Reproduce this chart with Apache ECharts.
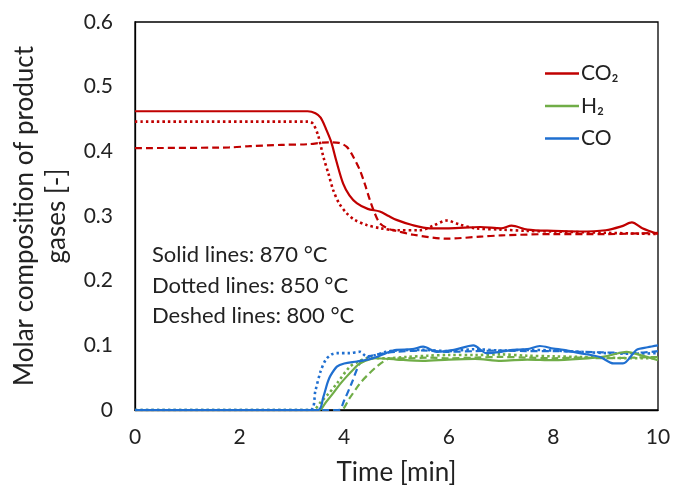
<!DOCTYPE html>
<html>
<head>
<meta charset="utf-8">
<script src="https://cdn.jsdelivr.net/npm/echarts@6/dist/echarts.min.js"></script>
<style>html,body{margin:0;padding:0;background:#fff;}#c{width:673px;height:488px;}</style>
</head>
<body>
<div id="c"></div>
<script>
// ---- data ----
const xTicks = [0, 2, 4, 6, 8, 10];
const yTicks = [0, 0.1, 0.2, 0.3, 0.4, 0.5, 0.6];
const legendNames = ['CO₂', 'H₂', 'CO'];
const notes = ['Solid lines: 870 °C', 'Dotted lines: 850 °C', 'Deshed lines: 800 °C'];

const co2_870 = [[0,0.462],[3.3,0.462],[3.45,0.459],[3.55,0.452],[3.65,0.435],[3.75,0.415],[3.85,0.385],[3.98,0.350],[4.1,0.332],[4.24,0.320],[4.45,0.311],[4.68,0.307],[4.85,0.300],[5.0,0.294],[5.3,0.286],[5.64,0.281],[6.0,0.281],[6.6,0.283],[7.0,0.281],[7.2,0.285],[7.5,0.279],[8.0,0.277],[8.5,0.276],[9.0,0.278],[9.3,0.284],[9.5,0.290],[9.7,0.281],[10,0.272]];
const co2_850 = [[0,0.446],[3.3,0.446],[3.4,0.443],[3.5,0.425],[3.6,0.392],[3.7,0.365],[3.79,0.340],[3.9,0.320],[4.05,0.304],[4.2,0.294],[4.43,0.286],[4.7,0.281],[5.0,0.278],[5.45,0.278],[5.7,0.285],[5.96,0.293],[6.2,0.287],[6.5,0.281],[7,0.279],[7.5,0.277],[8,0.276],[9,0.274],[10,0.272]];
const co2_800 = [[0,0.405],[1.8,0.406],[2.2,0.408],[2.8,0.410],[3.3,0.411],[3.7,0.414],[3.9,0.413],[4.05,0.407],[4.15,0.395],[4.3,0.371],[4.4,0.348],[4.49,0.325],[4.58,0.305],[4.68,0.289],[4.85,0.280],[5.0,0.277],[5.32,0.271],[5.96,0.265],[6.6,0.268],[7,0.270],[8,0.272],[9,0.272],[10,0.274]];
const h2_870 = [[0,0],[3.52,0],[3.65,0.012],[3.79,0.026],[3.92,0.040],[4.05,0.052],[4.18,0.063],[4.3,0.072],[4.62,0.080],[5.0,0.078],[5.5,0.076],[6,0.078],[6.5,0.079],[7,0.076],[7.5,0.078],[8,0.077],[8.5,0.079],[9,0.083],[9.4,0.090],[9.7,0.084],[10,0.077]];
const h2_850 = [[0,0],[3.4,0],[3.55,0.012],[3.7,0.025],[3.86,0.041],[4.11,0.067],[4.3,0.076],[4.43,0.080],[4.8,0.080],[5.2,0.082],[5.6,0.084],[6,0.085],[6.5,0.085],[7,0.086],[7.5,0.084],[8,0.083],[8.5,0.082],[9,0.081],[9.5,0.080],[10,0.080]];
const h2_800 = [[0,0],[3.93,0],[4.1,0.018],[4.3,0.041],[4.46,0.055],[4.62,0.067],[4.75,0.075],[4.88,0.080],[5.2,0.080],[5.6,0.081],[6,0.080],[6.5,0.081],[7,0.082],[7.5,0.081],[8,0.080],[8.5,0.081],[9,0.080],[9.5,0.081],[10,0.082]];
const co_870 = [[0,0],[3.5,0],[3.6,0.020],[3.68,0.042],[3.73,0.052],[3.86,0.067],[4.0,0.072],[4.24,0.075],[4.45,0.078],[4.62,0.082],[4.8,0.088],[5.0,0.093],[5.3,0.094],[5.51,0.098],[5.77,0.090],[6.1,0.093],[6.47,0.100],[6.72,0.088],[7.0,0.090],[7.23,0.093],[7.5,0.094],[7.74,0.099],[8.0,0.095],[8.19,0.093],[8.5,0.088],[8.89,0.082],[9.15,0.072],[9.33,0.072],[9.59,0.093],[9.8,0.097],[10,0.100]];
const co_850 = [[0,0],[3.35,0],[3.45,0.030],[3.55,0.060],[3.65,0.078],[3.76,0.086],[3.86,0.088],[4.1,0.088],[4.3,0.090],[4.43,0.083],[4.6,0.085],[4.8,0.090],[5,0.092],[5.5,0.093],[6,0.091],[6.5,0.094],[7,0.092],[7.5,0.093],[8,0.092],[8.5,0.090],[9,0.088],[9.5,0.087],[10,0.088]];
const co_800 = [[0,0],[3.89,0],[4.0,0.015],[4.14,0.041],[4.3,0.072],[4.46,0.082],[4.7,0.087],[5.0,0.090],[5.5,0.092],[6,0.090],[6.5,0.091],[7,0.092],[7.5,0.091],[8,0.091],[8.5,0.090],[9,0.089],[9.5,0.088],[10,0.091]];

const RED = '#C00000', GREEN = '#70AD47', BLUE = '#1F6FD0';
const FONT = 'Lato';

function mk(name, data, color, type) {
  return {
    name: name, type: 'line', data: data, showSymbol: false, smooth: 0.3,
    lineStyle: { color: color, width: type === 'dotted' ? 2.6 : 2.2, type: type === 'dashed' ? [7, 4] : (type === 'dotted' ? [2.5, 3] : 'solid') },
    itemStyle: { color: color }, z: type === 'solid' ? 3 : 2
  };
}

const chart = echarts.init(document.getElementById('c'), null, { renderer: 'canvas' });
chart.setOption({
  animation: false,
  backgroundColor: '#fff',
  grid: { left: 135, top: 22, right: 15, bottom: 78, containLabel: false, outerBoundsMode: 'none', show: true, borderColor: '#000', borderWidth: 1.3, backgroundColor: 'transparent' },
  xAxis: {
    type: 'value', min: xTicks[0], max: xTicks[xTicks.length - 1], interval: 2,
    name: 'Time [min]', nameLocation: 'middle', nameGap: 50,
    nameTextStyle: { fontFamily: FONT, fontSize: 26, color: '#222' },
    axisLine: { show: true, lineStyle: { color: '#000', width: 1.3 } },
    axisTick: { show: false }, splitLine: { show: false },
    axisLabel: { fontFamily: FONT, fontSize: 21, color: '#222', margin: 17 }
  },
  yAxis: {
    type: 'value', min: yTicks[0], max: yTicks[yTicks.length - 1], interval: 0.1,
    name: 'Molar composition of product\ngases [-]', nameLocation: 'middle', nameGap: 62,
    nameTextStyle: { fontFamily: FONT, fontSize: 26, color: '#222', lineHeight: 32 },
    axisLine: { show: true, lineStyle: { color: '#000', width: 1.3 } },
    axisTick: { show: false }, splitLine: { show: false },
    axisLabel: { fontFamily: FONT, fontSize: 21, color: '#222', margin: 22, formatter: v => String(Math.round(v * 10) / 10) }
  },
  legend: {
    data: legendNames, orient: 'vertical', left: 545, top: 63, padding: 0, itemGap: 11.5,
    icon: 'rect', itemWidth: 34, itemHeight: 2.5,
    textStyle: { fontFamily: FONT, fontSize: 21, color: '#222', padding: [0, 0, 0, -3] },
    selectedMode: false
  },
  graphic: notes.map((t, i) => ({
    type: 'text', left: 152, top: 244 + i * 30.5,
    style: { text: t, fontFamily: FONT, fontSize: 22, fill: '#222' }
  })),
  series: [
    mk(legendNames[0], co2_870, RED, 'solid'),
    mk(legendNames[1], h2_870, GREEN, 'solid'),
    mk(legendNames[2], co_870, BLUE, 'solid'),
    mk(legendNames[0], co2_850, RED, 'dotted'),
    mk(legendNames[1], h2_850, GREEN, 'dotted'),
    mk(legendNames[2], co_850, BLUE, 'dotted'),
    mk(legendNames[0], co2_800, RED, 'dashed'),
    mk(legendNames[1], h2_800, GREEN, 'dashed'),
    mk(legendNames[2], co_800, BLUE, 'dashed')
  ]
});
</script>
</body>
</html>
